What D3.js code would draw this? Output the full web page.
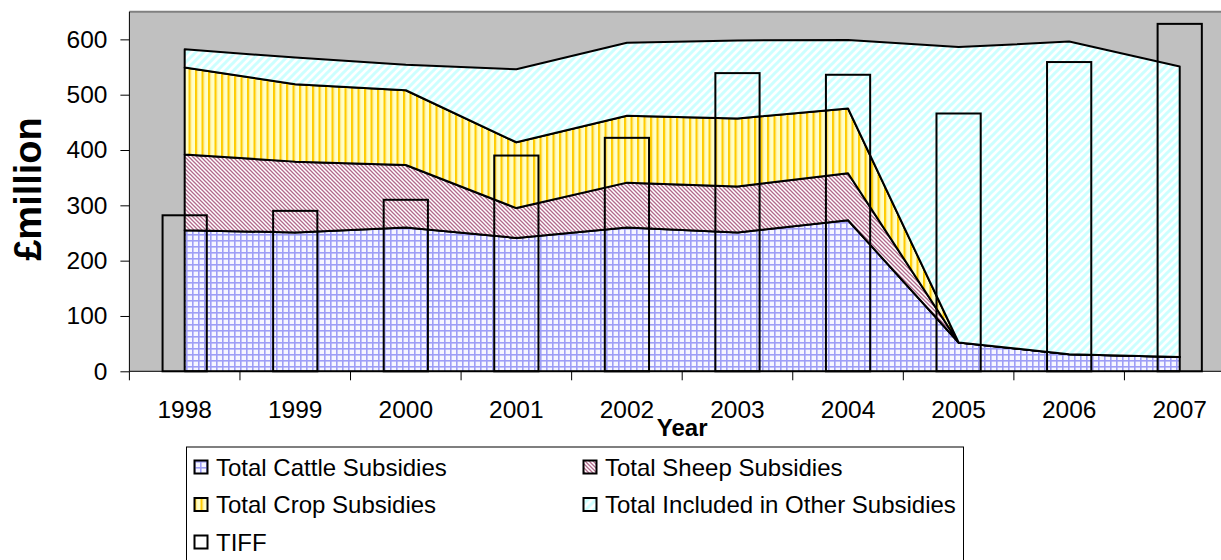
<!DOCTYPE html>
<html>
<head>
<meta charset="utf-8">
<script src="https://cdn.jsdelivr.net/npm/d3@7"></script>
<style>
  body { margin: 0; background: #fff; }
  text { font-family: "Liberation Sans", Arial, sans-serif; }
</style>
</head>
<body>
<div id="chart-area"></div>
<script>
/*
*    subsidies chart
*/

const years = ["1998", "1999", "2000", "2001", "2002", "2003", "2004", "2005", "2006", "2007"];
const cattle = [255, 251, 260, 241, 260, 251, 273, 52, 31, 26];
const sheep = [137, 128, 113, 54, 81, 83, 85, 0, 0, 0];
const crop = [157, 140, 135, 119, 121, 123, 117, 0, 0, 0];
const other = [33, 48, 46, 132, 132, 141, 124, 534, 565, 525];
const tiff = [282, 290, 310, 390, 422, 539, 536, 466, 559, 628];
const yTicks = [0, 100, 200, 300, 400, 500, 600];

const seriesNames = ["Total Cattle Subsidies", "Total Sheep Subsidies", "Total Crop Subsidies", "Total Included in Other Subsidies"];
const seriesKeys = ["cattle", "sheep", "crop", "other"];

const width = 1221;
const height = 560;

const plot = {left: 129.4, right: 1235, top: 11.7, bottom: 371.3};

const svg = d3.select("#chart-area")
    .append("svg")
    .attr("width", width)
    .attr("height", height);

// patterns
const defs = svg.append("defs");

const pCattle = defs.append("pattern")
    .attr("id", "p-cattle")
    .attr("patternUnits", "userSpaceOnUse")
    .attr("width", 6).attr("height", 6);
pCattle.append("rect").attr("width", 6).attr("height", 6).attr("fill", "#f6f6ff");
pCattle.append("rect").attr("x", 0).attr("width", 1.6).attr("height", 6).attr("fill", "#9e9ef6");
pCattle.append("rect").attr("y", 0).attr("width", 6).attr("height", 1.6).attr("fill", "#9e9ef6");

const pSheep = defs.append("pattern")
    .attr("id", "p-sheep")
    .attr("patternUnits", "userSpaceOnUse")
    .attr("width", 4).attr("height", 4);
pSheep.append("rect").attr("width", 4).attr("height", 4).attr("fill", "#ffffff");
pSheep.append("path")
    .attr("d", "M-1,-1 L5,5 M-1,3 L1,5 M3,-1 L5,1")
    .attr("stroke", "#b26a8c")
    .attr("stroke-width", 1.3);

const pCrop = defs.append("pattern")
    .attr("id", "p-crop")
    .attr("patternUnits", "userSpaceOnUse")
    .attr("width", 6.5).attr("height", 6);
pCrop.append("rect").attr("width", 6.5).attr("height", 6).attr("fill", "#ffffc8");
pCrop.append("rect").attr("x", 0).attr("width", 2).attr("height", 6).attr("fill", "#ffcc00");
pCrop.append("rect").attr("x", 2).attr("width", 1).attr("height", 6).attr("fill", "#ffe680");

const pOther = defs.append("pattern")
    .attr("id", "p-other")
    .attr("patternUnits", "userSpaceOnUse")
    .attr("width", 8).attr("height", 8);
pOther.append("rect").attr("width", 8).attr("height", 8).attr("fill", "#ffffff");
pOther.append("path")
    .attr("d", "M-1,9 L9,-1 M-3,3 L3,-3 M5,11 L11,5")
    .attr("stroke", "#ccffff")
    .attr("stroke-width", 3);

const fills = {cattle: "url(#p-cattle)", sheep: "url(#p-sheep)", crop: "url(#p-crop)", other: "url(#p-other)"};

// plot background
svg.append("rect")
    .attr("x", plot.left)
    .attr("y", plot.top)
    .attr("width", plot.right - plot.left)
    .attr("height", plot.bottom - plot.top)
    .attr("fill", "#c0c0c0");

svg.append("line")
    .attr("x1", plot.left).attr("x2", plot.right)
    .attr("y1", plot.top).attr("y2", plot.top)
    .attr("stroke", "#808080")
    .attr("stroke-width", 2);

const x = d3.scaleBand()
    .domain(years)
    .range([plot.left, plot.right])
    .padding(0);

const y = d3.scaleLinear()
    .domain([0, 650])
    .range([plot.bottom, plot.top]);

// stacked areas
const rows = years.map((yr, i) => ({
    year: yr, cattle: cattle[i], sheep: sheep[i], crop: crop[i], other: other[i]
}));

const stacked = d3.stack().keys(seriesKeys)(rows);

const area = d3.area()
    .x(d => x(d.data.year) + x.bandwidth() / 2)
    .y0(d => y(d[0]))
    .y1(d => y(d[1]));

svg.append("g")
    .selectAll("path")
    .data(stacked)
    .enter()
    .append("path")
        .attr("d", area)
        .attr("fill", d => fills[d.key])
        .attr("stroke", "#000")
        .attr("stroke-width", 2)
        .attr("stroke-linejoin", "round");

// TIFF bars (outline only)
const barW = x.bandwidth() * 0.4;
svg.append("g")
    .selectAll("rect")
    .data(tiff)
    .enter()
    .append("rect")
        .attr("x", (d, i) => x(years[i]) + x.bandwidth() / 2 - barW / 2)
        .attr("y", d => y(d))
        .attr("width", barW)
        .attr("height", d => y(0) - y(d))
        .attr("fill", "none")
        .attr("stroke", "#000")
        .attr("stroke-width", 2);

// axes
const leftAxis = d3.axisLeft(y)
    .tickValues(yTicks)
    .tickSize(9)
    .tickPadding(13);

const gy = svg.append("g")
    .attr("class", "left axis")
    .attr("transform", "translate(" + plot.left + ",0)")
    .call(leftAxis);
gy.select(".domain").attr("d", "M0," + plot.top + "V" + plot.bottom);

const bottomAxis = d3.axisBottom(x)
    .tickSize(0)
    .tickPadding(29);

const gx = svg.append("g")
    .attr("class", "bottom axis")
    .attr("transform", "translate(0," + plot.bottom + ")")
    .call(bottomAxis);
gx.select(".domain").attr("d", "M" + plot.left + ",0H" + plot.right);

// category boundary ticks
gx.selectAll(".bound")
    .data(years)
    .enter()
    .append("line")
        .attr("class", "bound")
        .attr("x1", d => x(d)).attr("x2", d => x(d))
        .attr("y1", 0).attr("y2", 9);

svg.selectAll(".axis path, .axis line")
    .attr("stroke", "#000")
    .attr("stroke-width", 1);

svg.selectAll(".axis text")
    .attr("font-size", "24.5px")
    .attr("font-family", "Liberation Sans, Arial, sans-serif")
    .attr("fill", "#000");

svg.append("text")
    .attr("x", (plot.left + plot.right) / 2)
    .attr("y", 436)
    .attr("font-size", "24px")
    .attr("font-weight", "bold")
    .attr("text-anchor", "middle")
    .text("Year");

svg.append("text")
    .attr("transform", "translate(41,189) rotate(-90)")
    .attr("font-size", "38px")
    .attr("font-weight", "bold")
    .attr("text-anchor", "middle")
    .text("£million");

// legend
const legend = svg.append("g");

legend.append("rect")
    .attr("x", 186.5)
    .attr("y", 447)
    .attr("width", 777)
    .attr("height", 130)
    .attr("fill", "#fff")
    .attr("stroke", "#000")
    .attr("stroke-width", 1);

const legendItems = [
    {name: seriesNames[0], fill: fills.cattle, col: 0, row: 0},
    {name: seriesNames[1], fill: fills.sheep, col: 1, row: 0},
    {name: seriesNames[2], fill: fills.crop, col: 0, row: 1},
    {name: seriesNames[3], fill: fills.other, col: 1, row: 1},
    {name: "TIFF", fill: "#fff", col: 0, row: 2}
];

const li = legend.selectAll(".item")
    .data(legendItems)
    .enter()
    .append("g")
        .attr("class", "item")
        .attr("transform", d => "translate(" + (d.col ? 583 : 194) + "," + (467 + d.row * 37.5) + ")");

li.append("rect")
    .attr("x", 0.5)
    .attr("y", -6.5)
    .attr("width", 13)
    .attr("height", 13)
    .attr("fill", d => d.fill)
    .attr("stroke", "#000")
    .attr("stroke-width", 2);

li.append("text")
    .attr("x", 22)
    .attr("y", 8.5)
    .attr("font-size", "24px")
    .text(d => d.name);
</script>
</body>
</html>
